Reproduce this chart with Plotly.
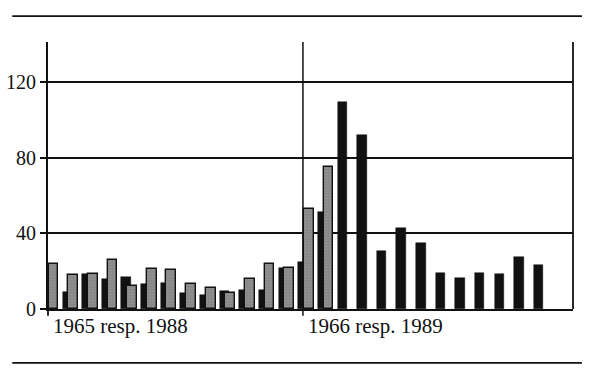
import plotly.graph_objects as go

# four-week periods, 1965/66 (black) and 1988/89 (dotted)
periods = list(range(26))
black_vals = [13, 9, 18.5, 16, 17, 13, 14, 8.5, 7.5, 9.5, 10, 10, 21.5,
              25, 51, 109.5, 92, 30.5, 43, 35, 19, 16.5, 19, 18.5, 27.5, 23.5]
dotted_vals = [24, 18, 18.5, 26, 12, 21, 20.5, 13, 11, 8.5, 16, 24, 21.5,
               53, 75]
y_ticks = [0, 40, 80, 120]
year_labels = ["1965 resp. 1988", "1966 resp. 1989"]
year_starts = [0, 13]

FONT = "Liberation Serif"
DOT_OFFSET = 0.3
X_RANGE = [0.02, 26.75]


def xpaper(v):
    return (v - X_RANGE[0]) / (X_RANGE[1] - X_RANGE[0])


fig = go.Figure()
fig.add_trace(go.Bar(
    x=periods, y=black_vals, width=0.48,
    marker=dict(color="#111111", line=dict(color="#111111", width=0.5)),
    showlegend=False,
))
fig.add_trace(go.Bar(
    x=[p + DOT_OFFSET for p in periods[:len(dotted_vals)]], y=dotted_vals, width=0.5,
    marker=dict(color="white", line=dict(color="#111111", width=1.4),
                pattern=dict(shape=".", fgcolor="#111111", bgcolor="white",
                             size=3, solidity=0.92)),
    showlegend=False,
))

shapes = []
# right frame line and year divider
shapes.append(dict(type="line", xref="paper", yref="paper", x0=1, x1=1, y0=0, y1=1,
                   line=dict(color="#111111", width=1.8)))
shapes.append(dict(type="line", xref="x", yref="paper", x0=year_starts[1], x1=year_starts[1],
                   y0=-0.025, y1=1, line=dict(color="#111111", width=1.5)))
shapes.append(dict(type="line", xref="paper", yref="paper", x0=0, x1=0,
                   y0=-0.025, y1=0, line=dict(color="#111111", width=1.8)))
# page rules
shapes.append(dict(type="line", xref="paper", yref="paper", x0=-0.068, x1=1.017,
                   y0=1.097, y1=1.097, line=dict(color="#111111", width=1.8)))
shapes.append(dict(type="line", xref="paper", yref="paper", x0=-0.068, x1=1.017,
                   y0=-0.202, y1=-0.202, line=dict(color="#111111", width=1.8)))

annotations = []
for lab, xs in zip(year_labels, year_starts):
    annotations.append(dict(x=max(xpaper(xs), 0), y=0, xref="paper", yref="paper", text=lab,
                            showarrow=False, xanchor="left", yanchor="top",
                            xshift=3, yshift=-3,
                            font=dict(family=FONT, size=21, color="#111111")))

fig.update_layout(
    width=600, height=380,
    margin=dict(l=48, r=27, t=42, b=71, pad=0, autoexpand=False),
    paper_bgcolor="white", plot_bgcolor="white",
    barmode="overlay", bargap=0,
    shapes=shapes, annotations=annotations,
    font=dict(family=FONT, size=20, color="#111111"),
)
fig.update_xaxes(
    range=X_RANGE, showticklabels=False, ticks="", automargin=False,
    showline=True, linecolor="#111111", linewidth=1.8,
    showgrid=False, zeroline=False,
)
fig.update_yaxes(
    range=[0, 141.1], tickvals=y_ticks, ticktext=[str(v) for v in y_ticks],
    ticks="outside", ticklen=6, tickwidth=1.5, tickcolor="#111111", automargin=False,
    showline=True, linecolor="#111111", linewidth=1.8,
    showgrid=True, gridcolor="#111111", gridwidth=1.5, zeroline=False,
    tickfont=dict(family=FONT, size=20, color="#111111"),
)

fig.write_html("out.html")
